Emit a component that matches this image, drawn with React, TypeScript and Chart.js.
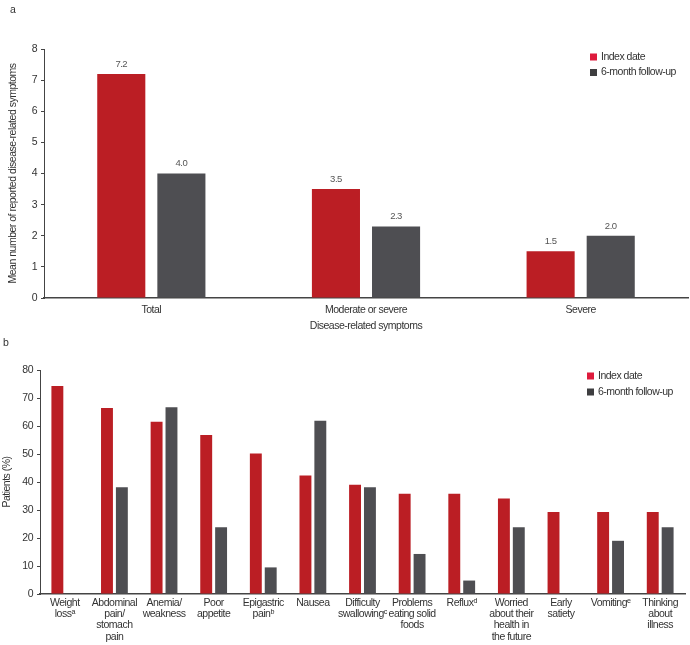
import React, { useEffect, useRef } from "react";
import { Chart, registerables } from "chart.js";

Chart.register(...registerables);

const FONT = "'Liberation Sans Narrow', 'Arial Narrow', 'Liberation Sans', Arial, sans-serif";
const FS = 10.5;

// ---- Data: panel a ----
const topCategories = ["Total", "Moderate or severe", "Severe"];
const topIndexDate = [7.2, 3.5, 1.5];
const topFollowUp = [4.0, 2.3, 2.0];
const topYTitle = "Mean number of reported disease-related symptoms";
const topXTitle = "Disease-related symptoms";

// ---- Data: panel b ----
const bottomCategories = [
  ["Weight", "lossᵃ"],
  ["Abdominal", "pain/", "stomach", "pain"],
  ["Anemia/", "weakness"],
  ["Poor", "appetite"],
  ["Epigastric", "painᵇ"],
  ["Nausea"],
  ["Difficulty", "swallowingᶜ"],
  ["Problems", "eating solid", "foods"],
  ["Refluxᵈ"],
  ["Worried", "about their", "health in", "the future"],
  ["Early", "satiety"],
  ["Vomitingᵉ"],
  ["Thinking", "about", "illness"],
];
const bottomIndexDate = [74.3, 66.4, 61.5, 56.8, 50.2, 42.3, 39.0, 35.8, 35.8, 34.1, 29.3, 29.3, 29.3];
const bottomFollowUp = [0, 38.1, 66.7, 23.8, 9.5, 61.9, 38.1, 14.3, 4.8, 23.8, 0, 19.0, 23.8];
const bottomYTitle = "Patients (%)";

const seriesNames = ["Index date", "6-month follow-up"];
const BAR_RED = "#BB1E24";
const BAR_GRAY = "#4E4E52";
const LEG_RED = "#DE1B3D";
const LEG_GRAY = "#3E3E40";
const TEXT = "#333333";
const AXIS = "#444444";

const tightText = {
  id: "tightText",
  beforeUpdate(chart: any) { (chart.ctx as any).letterSpacing = "-0.5px"; },
  beforeDraw(chart: any) { (chart.ctx as any).letterSpacing = "-0.5px"; },
};

function legendPlugin(boxX: number, textX: number, firstY: number, rowGap: number) {
  return {
    id: "customLegend",
    afterDraw(chart: any) {
      const { ctx } = chart;
      const colors = [LEG_RED, LEG_GRAY];
      ctx.save();
      ctx.font = `${FS}px ${FONT}`;
      ctx.textBaseline = "middle";
      ctx.textAlign = "left";
      seriesNames.forEach((name, i) => {
        const cy = firstY + i * rowGap;
        ctx.fillStyle = colors[i];
        ctx.fillRect(boxX, cy - 3.5, 7, 7);
        ctx.fillStyle = TEXT;
        ctx.fillText(name, textX, cy);
      });
      ctx.restore();
    },
  };
}

function panelLabelPlugin(text: string, x: number, y: number) {
  return {
    id: "panelLabel",
    afterDraw(chart: any) {
      const { ctx } = chart;
      ctx.save();
      ctx.font = `${FS}px ${FONT}`;
      ctx.fillStyle = TEXT;
      ctx.textBaseline = "middle";
      ctx.textAlign = "left";
      ctx.fillText(text, x, y);
      ctx.restore();
    },
  };
}

const valueLabelPlugin = {
  id: "valueLabels",
  afterDatasetsDraw(chart: any) {
    const { ctx } = chart;
    ctx.save();
    ctx.font = `9.5px ${FONT}`;
    ctx.fillStyle = "#555555";
    ctx.textAlign = "center";
    ctx.textBaseline = "bottom";
    chart.data.datasets.forEach((ds: any, di: number) => {
      const meta = chart.getDatasetMeta(di);
      meta.data.forEach((bar: any, i: number) => {
        ctx.fillText(Number(ds.data[i]).toFixed(1), bar.x, bar.y - 5);
      });
    });
    ctx.restore();
  },
};

function TopChart() {
  const ref = useRef<HTMLCanvasElement>(null);
  useEffect(() => {
    const chart = new Chart(ref.current!, {
      type: "bar",
      data: {
        labels: topCategories,
        datasets: [
          { label: seriesNames[0], data: topIndexDate, backgroundColor: BAR_RED, categoryPercentage: 0.56, barPercentage: 0.8 },
          { label: seriesNames[1], data: topFollowUp, backgroundColor: BAR_GRAY, categoryPercentage: 0.56, barPercentage: 0.8 },
        ],
      },
      options: {
        responsive: false,
        animation: false,
        layout: { padding: { top: 49, right: 2, bottom: 0, left: 0 } },
        plugins: { legend: { display: false }, title: { display: false }, tooltip: { enabled: false } },
        scales: {
          x: {
            grid: { display: false, drawTicks: false, tickLength: 0 },
            border: { display: true, color: AXIS, width: 1.5 },
            ticks: { color: TEXT, font: { family: FONT, size: FS }, padding: 6, maxRotation: 0, autoSkip: false },
            title: { display: true, text: topXTitle, color: TEXT, font: { family: FONT, size: FS }, padding: { top: 0, bottom: 3 } },
            afterFit: (s: any) => { s.height = 37; },
          },
          y: {
            min: 0,
            max: 8,
            ticks: { stepSize: 1, color: TEXT, font: { family: FONT, size: FS }, padding: 4 },
            grid: { display: true, drawOnChartArea: false, drawTicks: true, tickLength: 3, color: AXIS },
            border: { display: true, color: AXIS, width: 1 },
            title: { display: true, text: topYTitle, color: TEXT, font: { family: FONT, size: FS }, padding: { top: 7, bottom: 0 } },
            afterFit: (s: any) => { s.width = 44; },
          },
        },
      },
      plugins: [tightText, valueLabelPlugin, legendPlugin(590, 601, 57, 15.5), panelLabelPlugin("a", 10, 10)],
    } as any);
    return () => chart.destroy();
  }, []);
  return <canvas ref={ref} width={690} height={335} style={{ position: "absolute", left: 0, top: 0 }} />;
}

function BottomChart() {
  const ref = useRef<HTMLCanvasElement>(null);
  useEffect(() => {
    const chart = new Chart(ref.current!, {
      type: "bar",
      data: {
        labels: bottomCategories,
        datasets: [
          { label: seriesNames[0], data: bottomIndexDate, backgroundColor: BAR_RED, categoryPercentage: 0.6, barPercentage: 0.8 },
          { label: seriesNames[1], data: bottomFollowUp, backgroundColor: BAR_GRAY, categoryPercentage: 0.6, barPercentage: 0.8 },
        ],
      },
      options: {
        responsive: false,
        animation: false,
        layout: { padding: { top: 35, right: 5, bottom: 0, left: 0 } },
        plugins: { legend: { display: false }, title: { display: false }, tooltip: { enabled: false } },
        scales: {
          x: {
            grid: { display: false, drawTicks: false, tickLength: 0 },
            border: { display: true, color: AXIS, width: 1.5 },
            ticks: { color: TEXT, font: { family: FONT, size: FS, lineHeight: 1.08 }, padding: 3, maxRotation: 0, autoSkip: false },
            afterFit: (s: any) => { s.height = 51; },
          },
          y: {
            min: 0,
            max: 80,
            ticks: { stepSize: 10, color: TEXT, font: { family: FONT, size: FS }, padding: 4 },
            grid: { display: true, drawOnChartArea: false, drawTicks: true, tickLength: 3, color: AXIS },
            border: { display: true, color: AXIS, width: 1 },
            title: { display: true, text: bottomYTitle, color: TEXT, font: { family: FONT, size: FS }, padding: { top: 1, bottom: 0 } },
            afterFit: (s: any) => { s.width = 40; },
          },
        },
      },
      plugins: [tightText, legendPlugin(587, 598, 41, 16), panelLabelPlugin("b", 3, 8)],
    } as any);
    return () => chart.destroy();
  }, []);
  return <canvas ref={ref} width={690} height={310} style={{ position: "absolute", left: 0, top: 335 }} />;
}

export default function App() {
  return (
    <div style={{ position: "absolute", left: 0, top: 0, width: 690, height: 645, background: "#ffffff" }}>
      <TopChart />
      <BottomChart />
    </div>
  );
}
